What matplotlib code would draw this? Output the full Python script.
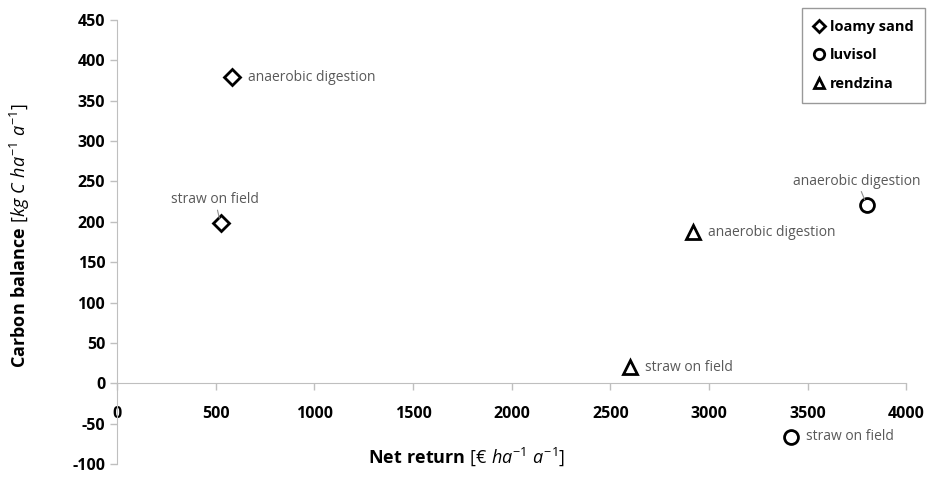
import matplotlib.pyplot as plt
import numpy as np

plt.rcParams['font.family'] = ['Open Sans', 'DejaVu Sans']
plt.rcParams['mathtext.fontset'] = 'custom'
plt.rcParams['mathtext.rm'] = 'Open Sans'
plt.rcParams['mathtext.it'] = 'Open Sans:italic'
plt.rcParams['mathtext.bf'] = 'Open Sans:bold'
plt.rcParams['axes.unicode_minus'] = False

# data
soils = ['loamy sand', 'luvisol', 'rendzina']
markers = ['D', 'o', '^']
net_return = {'loamy sand': [525, 585], 'luvisol': [3415, 3800], 'rendzina': [2600, 2920]}
carbon = {'loamy sand': [198, 379], 'luvisol': [-66, 221], 'rendzina': [20, 187]}
options = ['straw on field', 'anaerobic digestion']

# label offsets (points) and whether a leader line is drawn
label_pos = {
    ('loamy sand', 0): ((-4, 17), 'center', True),
    ('loamy sand', 1): ((11, 0), 'left', False),
    ('luvisol', 0): ((11, 0), 'left', False),
    ('luvisol', 1): ((-7, 17), 'center', True),
    ('rendzina', 0): ((11, 0), 'left', False),
    ('rendzina', 1): ((11, 0), 'left', False),
}

fig = plt.figure(figsize=(9.34, 4.97), dpi=100)
ax = fig.add_axes([0.1253, 0.066, 0.845, 0.894])

grey = '#bfbfbf'
for s, m in zip(soils, markers):
    ms = 8 if m == 'D' else 10
    ax.plot(net_return[s], carbon[s], linestyle='none', marker=m, ms=ms,
            mfc='white', mec='black', mew=2, label=s, zorder=3)
    for i, opt in enumerate(options):
        off, ha, leader = label_pos[(s, i)]
        ax.annotate(opt, (net_return[s][i], carbon[s][i]), xytext=off,
                    textcoords='offset points', ha=ha, va='center',
                    fontsize=10, color='#595959',
                    arrowprops=dict(arrowstyle='-', color='#8c8c8c', lw=0.8,
                                    shrinkA=0, shrinkB=4) if leader else None)

ax.set_xlim(0, 4000)
ax.set_ylim(-100, 450)
ax.set_xticks(np.arange(0, 4001, 500))
ax.set_yticks(np.arange(-100, 451, 50))
for sp in ['top', 'right']:
    ax.spines[sp].set_visible(False)
ax.spines['bottom'].set_position(('data', 0))
for sp in ['left', 'bottom']:
    ax.spines[sp].set_color(grey)
ax.tick_params(colors=grey, labelcolor='black', length=5, width=1)
ax.tick_params(axis='x', pad=11)
for lab in ax.get_xticklabels() + ax.get_yticklabels():
    lab.set_fontweight('bold')
    lab.set_fontsize(11.5)

ax.set_xlabel(r'$\mathbf{Net\ return}\ \mathit{[€\ ha^{-1}\ a^{-1}]}$', fontsize=13)
ax.xaxis.set_label_coords(0.5, 0.104, transform=fig.transFigure)
ax.set_ylabel(r'$\mathbf{Carbon\ balance}\ \mathit{[kg\ C\ ha^{-1}\ a^{-1}]}$', fontsize=13)
ax.yaxis.set_label_coords(0.034, 0.525, transform=fig.transFigure)

leg = ax.legend(loc='upper right', bbox_to_anchor=(925 / 934, 1 - 8 / 497),
                bbox_transform=fig.transFigure, borderaxespad=0, fancybox=False,
                edgecolor='#808080', handlelength=0.8, handletextpad=0.3,
                labelspacing=1.0, borderpad=0.8, prop={'weight': 'bold', 'size': 10.5})
leg.get_frame().set_linewidth(1)
for h in leg.legend_handles:
    h.set_markersize(7.5 if h.get_marker() != 'D' else 6)
    h.set_markeredgewidth(2)

fig.savefig('out.png', dpi=100)
